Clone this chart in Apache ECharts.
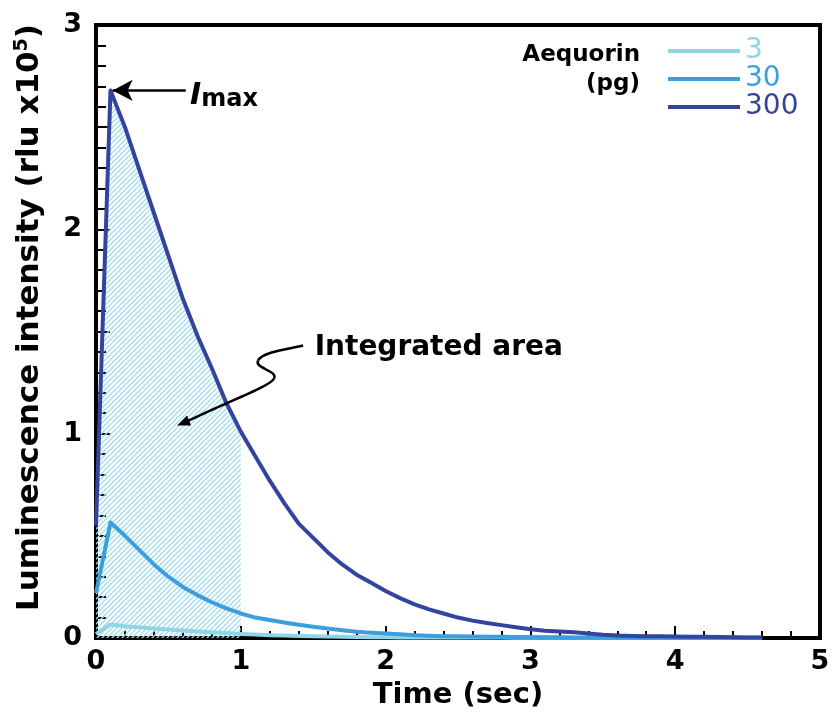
<!DOCTYPE html>
<html>
<head>
<meta charset="utf-8">
<script src="https://cdn.jsdelivr.net/npm/echarts@6/dist/echarts.min.js"></script>
<style>
html,body{margin:0;padding:0;background:#fff;}
#main{width:834px;height:718px;}
</style>
</head>
<body>
<div id="main"></div>
<script>
// ---- data ----
const time = [0,0.1,0.2,0.3,0.4,0.5,0.6,0.7,0.8,0.9,1.0,1.1,1.2,1.3,1.4,1.5,1.6,1.7,1.8,1.9,2.0,2.1,2.2,2.3,2.4,2.5,2.6,2.7,2.8,2.9,3.0,3.1,3.2,3.3,3.4,3.5,3.6,3.7,3.8,3.9,4.0,4.1,4.2,4.3,4.4,4.5,4.6];
const aeq300 = [0.55,2.68,2.50,2.29,2.08,1.87,1.66,1.48,1.32,1.15,1.01,0.89,0.77,0.66,0.56,0.49,0.42,0.36,0.31,0.27,0.23,0.195,0.165,0.14,0.12,0.10,0.085,0.073,0.063,0.053,0.043,0.036,0.032,0.028,0.022,0.016,0.012,0.010,0.009,0.008,0.007,0.006,0.006,0.005,0.004,0.003,0.002];
const aeq30 = [0.22,0.565,0.50,0.43,0.36,0.30,0.25,0.21,0.175,0.145,0.12,0.10,0.088,0.076,0.065,0.055,0.046,0.038,0.031,0.026,0.022,0.018,0.014,0.011,0.009,0.008,0.007,0.006,0.006,0.005,0.005,0.004,0.004,0.003,0.003,0.003,0.002,0.002,0.002,0.002,0.001,0.001,0.001,0.001,0.001,0.001,0.001];
const aeq3 = [0.02,0.066,0.058,0.052,0.047,0.042,0.037,0.032,0.028,0.024,0.020,0.017,0.014,0.012,0.010,0.008,0.007,0.006,0.005,0.004,0.004,0.003,0.003,0.002,0.002,0.002,0.002,0.002,0.002,0.001,0.001,0.001,0.001,0.001,0.001,0.001,0.001,0.001,0.001,0.001,0.001,0.001,0.001,0.001,0.001,0.001,0.001];
const seriesNames = ['3','30','300'];
const xTicks = [0,1,2,3,4,5];
const yTicks = [0,1,2,3];
const integrateEnd = 1.0; // sec

// ---- style ----
const FONT = 'DejaVu Sans';
const colors = {'3':'#8ed5e6','30':'#3b9fde','300':'#34449e'};

const pair = (vals) => time.map((t,i)=>[t, vals[i]]);
const hatchData = time.map((t,i)=>[t, aeq300[i]]).filter(p=>p[0] <= integrateEnd + 1e-9);

// hatch pattern
const pc = document.createElement('canvas');
pc.width = 5; pc.height = 5;
const pctx = pc.getContext('2d');
pctx.strokeStyle = '#a2dbeb';
pctx.lineWidth = 1.3;
pctx.beginPath();
pctx.moveTo(0,5); pctx.lineTo(5,0);
pctx.moveTo(-1,1); pctx.lineTo(1,-1);
pctx.moveTo(4,6); pctx.lineTo(6,4);
pctx.stroke();

const chart = echarts.init(document.getElementById('main'));

function lineSeries(name, vals){
  return {
    name: name, type:'line', data: pair(vals), showSymbol:false, symbol:'none',
    lineStyle:{color: colors[name], width:4, join:'round'},
    itemStyle:{color: colors[name]},
    z: 3, animation:false
  };
}

chart.setOption({
  animation:false,
  grid:{left:96, right:14, top:25, bottom:80, show:true, borderColor:'#000', borderWidth:4, backgroundColor:'transparent'},
  legend:{
    orient:'vertical', left:668, top:37, padding:0, itemGap:0,
    icon:'rect', itemWidth:72, itemHeight:4,
    textStyle:{fontFamily:FONT, fontSize:28, lineHeight:25},
    data: seriesNames.map(n=>({name:n, textStyle:{color:colors[n]}})),
    selectedMode:false
  },
  xAxis:{
    type:'value', min:xTicks[0], max:xTicks[xTicks.length-1], interval:1,
    name:'Time (sec)', nameLocation:'middle', nameGap:43,
    nameTextStyle:{fontFamily:FONT, fontWeight:'bold', fontSize:29, color:'#000'},
    axisLine:{show:true, lineStyle:{color:'#000', width:4}},
    axisTick:{show:true, inside:true, length:12, lineStyle:{color:'#000', width:2}},
    minorTick:{show:true, splitNumber:5, length:7, lineStyle:{color:'#000', width:2}},
    axisLabel:{fontFamily:FONT, fontWeight:'bold', fontSize:27, color:'#000', margin:10},
    splitLine:{show:false}
  },
  yAxis:{
    type:'value', min:yTicks[0], max:yTicks[yTicks.length-1], interval:0.5,
    name:'Luminescence intensity (rlu x10{sup|5})', nameLocation:'middle', nameGap:50,
    nameTextStyle:{fontFamily:FONT, fontWeight:'bold', fontSize:31, color:'#000', padding:[0,0,0,28],
      rich:{sup:{fontFamily:FONT, fontWeight:'bold', fontSize:19, verticalAlign:'top', padding:[0,0,14,0], color:'#000'}}},
    axisLine:{show:true, lineStyle:{color:'#000', width:4}},
    axisTick:{show:true, inside:true, length:14, lineStyle:{color:'#000', width:2}},
    minorTick:{show:true, splitNumber:5, length:10, lineStyle:{color:'#000', width:2}},
    axisLabel:{fontFamily:FONT, fontWeight:'bold', fontSize:27, color:'#000', margin:14,
      formatter:(v)=> yTicks.indexOf(v) >= 0 ? String(v) : ''},
    splitLine:{show:false}
  },
  series:[
    {
      name:'integrated', type:'line', data:hatchData, showSymbol:false, symbol:'none',
      lineStyle:{width:0, opacity:0}, areaStyle:{color:{image:pc, repeat:'repeat'}, opacity:1},
      silent:true, z:1, animation:false
    },
    lineSeries('3', aeq3),
    lineSeries('30', aeq30),
    Object.assign(lineSeries('300', aeq300), {
      markLine:{
        silent:true, animation:false,
        symbol:['none','arrow'], symbolSize:[16,20],
        lineStyle:{color:'#000', width:2.5, type:'solid'},
        label:{show:false},
        data:[[{coord:[0.62, 2.68]}, {coord:[0.115, 2.68]}]]
      }
    })
  ]
});

// annotations anchored in data space
const px = (t,v) => chart.convertToPixel({gridIndex:0}, [t,v]);
const imaxPos = px(0.65, 2.65);
const textPos = px(1.51, 1.42);
const tip = px(0.56, 1.04);
const sx = tip[0], sy = tip[1];
const curveStyle = {stroke:'#000', lineWidth:2.5, fill:null};
chart.setOption({
  graphic:[
    {type:'text', x:imaxPos[0], y:imaxPos[1], z:10,
      style:{text:'{i|I}{m|max}', verticalAlign:'middle', rich:{
        i:{fontFamily:FONT, fontStyle:'italic', fontWeight:'bold', fontSize:30, fill:'#000'},
        m:{fontFamily:FONT, fontWeight:'bold', fontSize:24, fill:'#000', padding:[6,0,0,0]}}}},
    {type:'text', x:textPos[0], y:textPos[1], z:10,
      style:{text:'Integrated area', fontFamily:FONT, fontWeight:'bold', fontSize:28, fill:'#000', verticalAlign:'middle'}},
    {type:'bezierCurve', z:10, shape:{x1:sx+126, y1:sy-80, cpx1:sx+108, cpy1:sy-76, cpx2:sx+85, cpy2:sy-73, x2:sx+81, y2:sy-65}, style:curveStyle},
    {type:'bezierCurve', z:10, shape:{x1:sx+81, y1:sy-65, cpx1:sx+77, cpy1:sy-57, cpx2:sx+101, cpy2:sy-55, x2:sx+97, y2:sy-47}, style:curveStyle},
    {type:'bezierCurve', z:10, shape:{x1:sx+97, y1:sy-47, cpx1:sx+93, cpy1:sy-39, cpx2:sx+53, cpy2:sy-25, x2:sx+10, y2:sy-4}, style:curveStyle},
    {type:'polygon', z:10, shape:{points:[[sx,sy],[sx+14,sy],[sx+10,sy-10]]}, style:{fill:'#000'}},
    {type:'text', x:640, y:55, z:10,
      style:{text:'Aequorin', fontFamily:FONT, fontWeight:'bold', fontSize:23, fill:'#000', align:'right', verticalAlign:'middle'}},
    {type:'text', x:640, y:84, z:10,
      style:{text:'(pg)', fontFamily:FONT, fontWeight:'bold', fontSize:23, fill:'#000', align:'right', verticalAlign:'middle'}}
  ]
});
</script>
</body>
</html>
